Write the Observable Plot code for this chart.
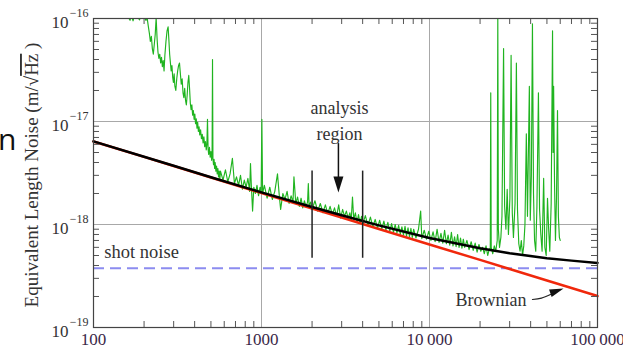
<!DOCTYPE html>
<html><head><meta charset="utf-8">
<script src="https://cdn.jsdelivr.net/npm/d3@7"></script>
<script src="https://cdn.jsdelivr.net/npm/@observablehq/plot@0.6"></script>
<style>
body{margin:0;background:#fff;}
#wrap{position:relative;width:623px;height:353px;overflow:hidden;}
#slideN{position:absolute;left:-2px;top:124px;font:30px/30px "Open Sans",sans-serif;color:#111;}
#wrap svg{position:absolute;left:0;top:0;}
</style></head><body><div id="wrap"><div id="slideN">n</div></div>
<script>
// ---- data (amplitudes in units of 1e-18 m/sqrt(Hz)) ----
const xTicks = [100, 1000, 10000, 100000];
const xTickLabels = ["100", "1000", "10\u2009000", "100\u2009000"];
const yTicks = [1e-19, 1e-18, 1e-17, 1e-16];
const yTickExponents = ["\u221219", "\u221218", "\u221217", "\u221216"];

const modelFreq   = [100, 200, 300, 500, 1000, 2000, 3000, 5000, 10000, 20000, 30000, 50000, 70000, 100000];
const brownianAmp = [6.4, 4.53, 3.7, 2.86, 2.02, 1.43, 1.17, 0.905, 0.64, 0.453, 0.37, 0.286, 0.242, 0.202];
const totalAmp    = [6.41, 4.55, 3.72, 2.88, 2.05, 1.48, 1.23, 0.98, 0.74, 0.587, 0.526, 0.471, 0.446, 0.424];
const shotAmp = 0.375;

const analysisBounds = [2000, 4000];
const analysisSpan = [3.3, 0.47];

const measured = [
[100,400],[120,260],[140,170],[155,125],[162,101],[165,96],[168,108],[172,95],[177,116],[183,104],[188,97],[194,122],[200,105],[205,96],[209,99],[212,84],[215,72],[218,60],[221,67],[224,51],[227,45],[230,56],[233,70],[236,102],[239,64],[242,47],[245,41],[248,45],[251,37],[254,42],[257,34],[260,39],[263,31],[266,44],[270,60],[274,76],[278,83],[281,62],[284,45],[287,37],[290,31],[293,35],[296,27],[299,24],[302,29],[305,22],[309,20],[313,26],[317,31],[321,35],[325,37],[329,29],[333,23],[337,26],[341,19],[345,17],[349,21],[353,16],[357,14.5],[361,18],[365,24],[369,28],[373,21],[377,15],[381,13],[385,14.5],[389,11.5],[393,12.8],[397,10.5],[401,11.8],[405,9.5],[409,10.6],[413,8.6],[417,9.8],[421,8.0],[425,8.9],[429,7.4],[434,8.3],[439,6.8],[444,7.5],[449,6.2],[454,7.1],[459,5.7],[464,6.4],[469,5.3],[473,6.0],[477,10.5],[481,5.4],[485,4.8],[490,5.6],[495,4.5],[500,5.1],[505,4.2],[508,4.7],[511,40],[514,4.4],[518,3.8],[522,4.3],[526,3.5],[530,4.0],[535,3.3],[540,3.7],[545,3.1],[550,3.5],[555,2.9],[560,3.3],[565,2.75],
[570,3.3],[590,2.7],[610,3.4],[630,2.6],[650,3.1],[671,4.4],[690,2.5],[710,2.9],[730,2.4],[750,3.0],[770,2.2],[790,2.7],[810,2.3],[830,2.8],[850,2.1],[860,3.9],[870,2.4],[885,1.35],[900,2.3],[920,2.0],[940,2.4],[960,1.9],[980,2.3],[995,2.0],[1005,10.5],[1015,2.0],[1040,2.4],[1080,1.8],[1120,2.3],[1160,1.75],[1200,2.1],[1245,3.1],[1280,1.8],[1300,1.4],[1340,2.0],[1380,1.75],[1420,2.1],[1460,1.6],[1500,1.9],[1540,1.65],[1560,2.9],[1600,1.6],[1640,1.85],[1680,1.5],[1720,1.8],[1760,1.45],[1800,1.7],[1840,1.5],[1880,1.65],[1900,2.5],[1920,1.5],[1960,1.65],[2000,1.4],
[2080,1.7],[2160,1.35],[2240,1.6],[2320,1.3],[2400,1.55],[2480,1.28],[2560,1.5],[2640,1.25],[2720,1.45],[2800,1.2],[2880,1.55],[2960,1.15],[3040,1.4],[3120,1.2],[3200,1.35],[3280,1.15],[3360,1.3],[3420,1.1],[3480,1.85],[3540,1.12],[3620,1.3],[3700,1.05],[3780,1.25],[3860,1.02],[3940,1.2],[4000,1.0],
[4150,1.22],[4300,0.98],[4450,1.18],[4600,0.95],[4750,1.12],[4900,0.92],[5050,1.1],[5200,0.9],[5350,1.08],[5500,0.88],[5650,1.05],[5800,0.86],[5950,1.02],[6100,0.84],[6250,1.0],[6400,0.83],[6550,0.98],[6700,0.8],[6850,0.95],[7000,0.79],[7150,0.96],[7300,0.77],[7450,0.93],[7600,0.76],[7750,0.92],[7900,0.75],[8050,0.9],[8300,0.74],[8600,0.9],[8860,1.35],[9000,0.73],[9300,0.88],[9600,0.72],[9900,0.86],[10200,0.7],[10500,0.85],[10800,0.68],[11100,0.9],[11400,0.67],[11700,0.82],[12000,0.66],[12300,0.88],[12600,0.65],[12900,0.79],[13200,0.63],[13500,0.84],[13800,0.62],[14100,0.76],[14400,0.61],[14700,0.8],[15000,0.6],[15300,0.74],[15600,0.59],[15900,0.72],
[16200,0.6],[16700,0.7],[17200,0.57],[17700,0.68],[18200,0.56],[18700,0.66],[19200,0.54],[19700,0.64],[20200,0.55],[20700,0.6],[21200,0.52],[21700,0.62],[22200,0.5],[22700,0.58],
[23000,0.56],[23150,19],[23300,0.6],[23800,0.52],[24300,0.62],[24800,0.55],[25300,0.7],[25500,110],[25700,0.9],[26100,0.6],[26600,0.75],[27000,1.2],[27600,51],[28000,1.5],[28500,0.9],[29000,2.2],[29500,0.8],[30100,1.8],[30600,44],[31100,1.3],[31600,0.75],[32300,1.6],[32900,37],[33400,1.4],[34000,0.65],[34600,0.55],[35200,0.7],[35800,0.5],[36400,0.62],[37000,1.0],[37700,7.6],[38300,1.2],[39300,22],[39800,1.1],[40400,3.0],[41000,89],[41600,2.0],[42200,0.7],[42900,0.55],[43600,1.5],[44500,19],[45200,1.4],[46000,0.8],[46800,0.55],[47800,2.8],[48600,0.6],[49500,0.5],[50400,1.8],[51200,0.9],[52000,0.55],[53000,1.6],[54000,76],[54400,5],[54800,22],[55500,2.5],[56200,0.7],[57000,1.8],[57800,12.8],[58500,1.2],[59300,0.75],[60000,0.7]
];

// annotation anchors (data units)
const analysisArrow = {f: 2870, top: 6.1, base: 2.8, tip: 2.05};
const brownianPointer = [[41000, 0.187], [46400, 0.193], [52500, 0.209]];
const brownianTip = [62800, 0.239];

// ---- build ----
const S = 1e-18;
const green = measured.map(([f, a]) => ({f, v: a * S}));
const model = modelFreq.map((f, i) => ({f, b: brownianAmp[i] * S, t: totalAmp[i] * S}));
const xMinor = [];
for (const d of [100, 1000, 10000]) for (let k = 2; k <= 9; k++) xMinor.push(d * k);
const yMinor = [];
for (const d of [1e-19, 1e-18, 1e-17]) for (let k = 2; k <= 9; k++) yMinor.push(d * k);

const downHead = {draw(c) { c.moveTo(0, 0); c.lineTo(-5, -16); c.lineTo(5, -16); c.closePath(); }};
const slantHead = {draw(c) { c.moveTo(0, 0); c.lineTo(-11.9, 8.5); c.lineTo(-14.5, 0.9); c.closePath(); }};

const serif = "'Liberation Serif','Times New Roman',serif";
const FH = 353 - 18 - 26, FW = 623 - 93 - 26;

const chart = Plot.plot({
  width: 623, height: 353,
  marginLeft: 93, marginRight: 26, marginTop: 18, marginBottom: 26,
  style: {background: "transparent", fontFamily: serif, overflow: "visible"},
  x: {type: "log", domain: [100, 100000], axis: null},
  y: {type: "log", domain: [1e-19, 1e-16], axis: null},
  marks: [
    Plot.ruleX([1000, 10000], {stroke: "#a8a8a8", strokeWidth: 1}),
    Plot.ruleY([1e-18, 1e-17], {stroke: "#a8a8a8", strokeWidth: 1}),
    Plot.line(green, {x: "f", y: "v", stroke: "#20b420", strokeWidth: 1.15, clip: true}),
    Plot.ruleY([shotAmp * S], {stroke: "#8c8cf0", strokeWidth: 2, strokeDasharray: "11,6"}),
    Plot.line(model, {x: "f", y: "b", stroke: "#f0280c", strokeWidth: 2.5}),
    Plot.line(model, {x: "f", y: "t", stroke: "#000", strokeWidth: 2.5}),
    Plot.ruleX(analysisBounds, {y1: analysisSpan[0] * S, y2: analysisSpan[1] * S, stroke: "#222", strokeWidth: 1.5}),
    Plot.ruleX([analysisArrow.f], {y1: analysisArrow.top * S, y2: analysisArrow.base * S, stroke: "#111", strokeWidth: 1.5}),
    Plot.dot([analysisArrow], {x: "f", y: d => d.tip * S, symbol: downHead, fill: "#111", stroke: null}),
    Plot.line(brownianPointer, {x: d => d[0], y: d => d[1] * S, curve: "natural", stroke: "#222", strokeWidth: 1.2}),
    Plot.dot([brownianTip], {x: d => d[0], y: d => d[1] * S, symbol: slantHead, fill: "#111", stroke: null}),
    Plot.text(["analysis"], {x: 2910, y: 1.34e-17, text: d => d, fontSize: 18, fill: "#333"}),
    Plot.text(["region"], {x: 2910, y: 7.6e-18, text: d => d, fontSize: 18, fill: "#333"}),
    Plot.text(["shot noise"], {x: 116, y: 5.35e-19, text: d => d, fontSize: 18.5, fill: "#333", textAnchor: "start"}),
    Plot.text(["Brownian"], {x: 14300, y: 1.83e-19, text: d => d, fontSize: 18, fill: "#333", textAnchor: "start"}),
    Plot.tickX(xMinor, {x: d => d, insetTop: FH - 6, stroke: "#555"}),
    Plot.tickX(xMinor, {x: d => d, insetBottom: FH - 6, stroke: "#555"}),
    Plot.tickY(yMinor, {y: d => d, insetRight: FW - 6, stroke: "#555"}),
    Plot.tickY(yMinor, {y: d => d, insetLeft: FW - 6, stroke: "#555"}),
    Plot.frame({stroke: "#444", strokeWidth: 1.2}),
    Plot.text(yTicks, {y: d => d, text: () => "10", frameAnchor: "left", textAnchor: "end", dx: -25, dy: 4, fontSize: 17, fill: "#333"}),
    Plot.text(yTicks, {y: d => d, text: (d, i) => yTickExponents[i], frameAnchor: "left", textAnchor: "end", dx: -5, dy: -5, fontSize: 12, fill: "#333"}),
    Plot.text(xTicks, {x: d => d, text: (d, i) => xTickLabels[i], frameAnchor: "bottom", dy: 17, fontSize: 17, fill: "#3a2848"})
  ]
});

const label = d3.select(chart).append("text")
  .attr("transform", "translate(38,175) rotate(-90)")
  .attr("text-anchor", "middle")
  .attr("font-family", serif).attr("font-size", 19).attr("fill", "#333");
label.append("tspan").text("Equivalent Length Noise (m/\u221A");
label.append("tspan").style("text-decoration", "overline").text("Hz");
label.append("tspan").text(" )");

document.getElementById("wrap").appendChild(chart);
</script></body></html>
